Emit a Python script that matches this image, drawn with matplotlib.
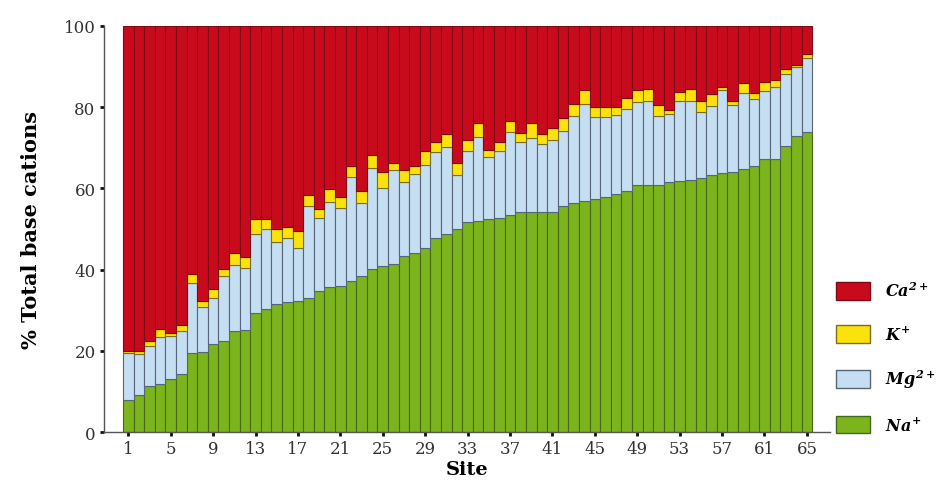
import matplotlib
matplotlib.use("Agg")
import matplotlib.pyplot as plt
from matplotlib.patches import Patch
import numpy as np

sites = list(range(1, 66))
na = [8.0, 9.2, 11.3, 11.9, 13.1, 14.4, 19.5, 19.7, 21.6, 22.4,
      24.9, 25.1, 29.4, 30.2, 31.4, 32.0, 32.3, 33.1, 34.7, 35.6,
      36.0, 37.2, 38.4, 40.1, 40.9, 41.3, 43.4, 44.2, 45.2, 47.7,
      48.7, 50.1, 51.6, 52.0, 52.4, 52.8, 53.4, 54.1, 54.1, 54.1,
      54.1, 55.6, 56.5, 57.0, 57.4, 57.9, 58.6, 59.4, 60.7, 60.7,
      60.8, 61.5, 61.9, 62.1, 62.5, 63.3, 63.8, 64.1, 64.8, 65.6,
      67.2, 67.2, 70.5, 72.8, 73.8]
mg = [11.5, 9.9, 10.0, 11.6, 10.5, 10.5, 17.3, 11.2, 11.5, 16.0,
      16.2, 15.4, 19.3, 19.8, 15.3, 15.7, 12.9, 22.6, 17.9, 21.1,
      19.1, 25.5, 18.1, 24.8, 19.3, 23.1, 18.1, 19.3, 20.6, 21.2,
      21.6, 13.2, 17.5, 20.6, 15.3, 16.3, 20.4, 17.4, 18.2, 16.8,
      17.7, 18.6, 21.4, 23.8, 20.1, 19.6, 19.5, 20.2, 20.5, 20.9,
      17.1, 16.9, 19.7, 19.5, 16.4, 16.9, 20.3, 16.3, 18.7, 16.5,
      16.7, 17.7, 17.7, 17.1, 18.3]
k = [0.4, 0.8, 1.1, 1.8, 0.8, 1.4, 2.0, 1.4, 2.0, 1.8,
     3.1, 2.7, 3.7, 2.4, 3.4, 2.7, 4.3, 2.7, 2.3, 3.1,
     2.7, 2.9, 2.9, 3.2, 3.8, 1.9, 2.9, 2.1, 3.5, 2.6,
     3.1, 3.0, 2.9, 3.5, 1.8, 2.4, 2.9, 2.2, 3.8, 2.5,
     3.0, 3.1, 2.9, 3.3, 2.5, 2.5, 1.9, 2.6, 2.9, 2.9,
     2.5, 1.0, 2.1, 2.9, 2.5, 3.1, 0.8, 1.0, 2.5, 1.4,
     2.4, 1.9, 1.3, 0.4, 1.1]
ca = [80.1, 80.1, 77.6, 74.7, 75.6, 73.7, 61.2, 67.7, 64.9, 59.8,
      55.8, 56.8, 47.6, 47.6, 49.9, 49.6, 50.5, 41.6, 45.1, 40.2,
      42.2, 34.4, 40.6, 31.9, 36.0, 33.7, 35.6, 34.4, 30.7, 28.5,
      26.6, 33.7, 28.0, 23.9, 30.5, 28.5, 23.3, 26.3, 23.9, 26.6,
      25.2, 22.7, 19.2, 15.9, 20.0, 20.0, 20.0, 17.8, 15.9, 15.5,
      19.6, 20.6, 16.3, 15.5, 18.6, 16.7, 15.1, 18.6, 14.0, 16.5,
      13.7, 13.2, 10.5, 9.7, 6.8]
xticks = list(range(1, 66, 4))
yticks = [0, 20, 40, 60, 80, 100]

c_na, c_mg, c_k, c_ca = "#7cb41e", "#c6def2", "#fbe20c", "#c90a1c"
e_na, e_mg, e_k, e_ca = "#46681a", "#56657a", "#7d6e12", "#7e0a14"

plt.rcParams["mathtext.fontset"] = "custom"
for key in ("mathtext.rm", "mathtext.it", "mathtext.bf"):
    plt.rcParams[key] = "DejaVu Serif:bold:italic"

fig = plt.figure(figsize=(9.36, 4.89), dpi=100)
ax = fig.add_axes([0.111, 0.1145, 0.776, 0.8305])

x = np.array(sites)
na_a, mg_a, k_a, ca_a = map(np.array, (na, mg, k, ca))
w = 1.0
ax.bar(x, na_a, width=w, color=c_na, edgecolor=e_na, linewidth=0.8)
ax.bar(x, mg_a, width=w, bottom=na_a, color=c_mg, edgecolor=e_mg, linewidth=0.8)
ax.bar(x, k_a, width=w, bottom=na_a + mg_a, color=c_k, edgecolor=e_k, linewidth=0.8)
ax.bar(x, ca_a, width=w, bottom=na_a + mg_a + k_a, color=c_ca, edgecolor=e_ca, linewidth=0.8)

ax.set_xlim(-1.3, 67.2)
ax.set_ylim(0, 100)
ax.set_xticks(xticks)
ax.set_yticks(yticks)
ax.set_xticklabels([str(t) for t in xticks], family="DejaVu Serif", fontsize=12, color="#333333")
ax.set_yticklabels([str(t) for t in yticks], family="DejaVu Serif", fontsize=12, color="#333333")
ax.tick_params(axis="both", direction="out", length=3, width=2, color="#111111", pad=3)
for s in ("top", "right"):
    ax.spines[s].set_visible(False)
for s in ("left", "bottom"):
    ax.spines[s].set_color("#555555")
    ax.spines[s].set_linewidth(1.0)

ax.set_xlabel("Site", family="DejaVu Serif", fontweight="bold", fontsize=14, labelpad=2)
ax.set_ylabel("% Total base cations", family="DejaVu Serif", fontweight="bold", fontsize=15, labelpad=16)

handles = [Patch(facecolor=c_ca, edgecolor=e_ca), Patch(facecolor=c_k, edgecolor=e_k),
           Patch(facecolor=c_mg, edgecolor=e_mg), Patch(facecolor=c_na, edgecolor=e_na)]
labels = [r"$Ca^{2+}$", r"$K^{+}$", r"$Mg^{2+}$", r"$Na^{+}$"]
fig.legend(handles, labels, loc="upper left", bbox_to_anchor=(0.893, 0.424),
           frameon=False, fontsize=11.5, handlelength=2.15, handleheight=1.3,
           labelspacing=1.55, handletextpad=0.95, borderaxespad=0, borderpad=0)

fig.savefig("out.png", dpi=100)
